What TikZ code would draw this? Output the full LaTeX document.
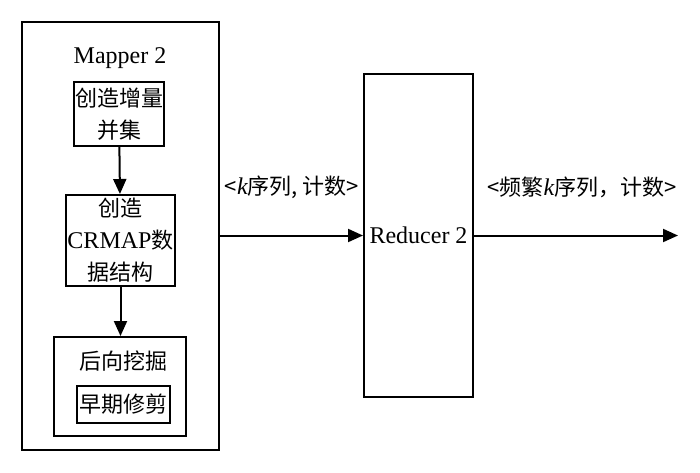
\documentclass[tikz,border=0pt]{standalone}
\usepackage{fontspec}
\setmainfont{Liberation Serif}
\newfontfamily\cjk{Noto Sans CJK SC}
\usetikzlibrary{arrows.meta}
\newcommand{\lw}{1pt}
\newcommand{\zh}{\cjk\fontsize{11}{16}\selectfont}
\newcommand{\en}{\rmfamily\fontsize{12}{16}\selectfont}
\tikzset{
    blk/.style={draw, line width=\lw, inner sep=0pt, align=center, font=\zh},
    flow/.style={-{Triangle[length=7.5pt,width=6.5pt]}, line width=\lw},
}

\begin{document}
\begin{tikzpicture}[x=0.5pt,y=-0.5pt]
        \useasboundingbox (0,0) rectangle (700,472);
        % Mapper 2
        \node[blk, minimum width=98.5pt, minimum height=214pt] (mapper) at (120.5,235.5) {};
        \node[font=\en] (mtitle) at (120,58) {Mapper 2};
        \node[blk, minimum width=45pt, minimum height=32pt] (union) at (119,114) {创造增量\\并集};
        \node[blk, minimum width=54.5pt, minimum height=45.5pt] (crmap) at (120.5,240.5) {创造\\{\en CRMAP}数\\据结构};
        \node[blk, minimum width=66pt, minimum height=49.5pt] (mine) at (120,386.5) {};
        \node[font=\zh] (btitle) at (123,361) {后向挖掘};
        \node[blk, minimum width=46.5pt, minimum height=18.5pt] (prune) at (123.5,404.5) {早期修剪};
        \draw[flow] (union) -- (crmap);
        \draw[flow] (crmap) -- (crmap |- mine.north);
        % Reducer 2
        \node[blk, font=\en, minimum width=54.5pt, minimum height=161.5pt] (reducer) at (418.5,235.5) {Reducer 2};
        \coordinate (out) at (678,235.5);
        \draw[flow] (mapper.east) -- (reducer.west);
        \draw[flow] (reducer.east) -- (out);
        \node[font=\zh] (kin) at (292,187) {<{\en\itshape k}序列, 计数>};
        \node[font=\zh] (kout) at (582,187) {<频繁{\en\itshape k}序列，计数>};
\end{tikzpicture}
\end{document}
